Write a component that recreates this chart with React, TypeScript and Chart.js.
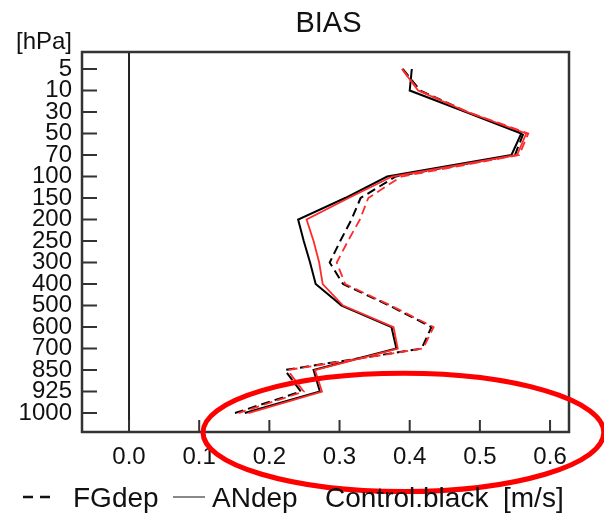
import React, { useEffect, useRef } from "react";
import { Chart, registerables } from "chart.js";

Chart.register(...registerables);

// pressure levels (category axis, top to bottom)
const levels = ["5", "10", "30", "50", "70", "100", "150", "200", "250", "300", "400", "500", "600", "700", "850", "925", "1000"];

// BIAS values [m/s]
const fgControl = [0.390, 0.415, 0.482, 0.562, 0.550, 0.380, 0.330, 0.317, 0.301, 0.286, 0.305, 0.371, 0.431, 0.417, 0.222, 0.245, 0.151];
const fgExperiment = [0.389, 0.413, 0.483, 0.569, 0.556, 0.388, 0.341, 0.329, 0.312, 0.296, 0.308, 0.373, 0.434, 0.419, 0.226, 0.249, 0.156];
const anControl = [0.403, 0.400, 0.480, 0.559, 0.545, 0.368, 0.308, 0.241, 0.249, 0.258, 0.266, 0.303, 0.374, 0.381, 0.263, 0.272, 0.165];
const anExperiment = [0.389, 0.412, 0.482, 0.566, 0.553, 0.375, 0.313, 0.253, 0.263, 0.271, 0.276, 0.305, 0.377, 0.383, 0.265, 0.275, 0.170];

const xTickValues = [0, 0.1, 0.2, 0.3, 0.4, 0.5, 0.6];
const xMin = -0.067;
const xMax = 0.627;
const yMin = -0.79;
const yMax = 16.88;

// red highlight ellipse, in data units (x value, level index)
const highlightCenterX = 0.391;
const highlightCenterY = 16.9;
const highlightRadiusX = 0.2856;
const highlightRadiusY = 2.75;

const FONT = '"Liberation Sans", Arial, Helvetica, sans-serif';

const toPoints = (arr: number[]) => arr.map((v, i) => ({ x: v, y: i }));

const decor = {
  id: "decor",
  beforeDatasetsDraw(chart: any) {
    const { ctx, chartArea: a, scales } = chart;
    const x0 = scales.x.getPixelForValue(0);
    ctx.save();
    ctx.strokeStyle = "#222";
    ctx.lineWidth = 2;
    ctx.beginPath();
    ctx.moveTo(x0, a.top);
    ctx.lineTo(x0, a.bottom);
    ctx.stroke();
    ctx.restore();
  },
  afterDraw(chart: any) {
    const { ctx, chartArea: a, scales } = chart;
    const xs = scales.x;
    const ys = scales.y;
    ctx.save();
    // inward tick marks
    ctx.strokeStyle = "#333";
    ctx.lineWidth = 2;
    ctx.beginPath();
    ys.ticks.forEach((t: any) => {
      const py = ys.getPixelForValue(t.value);
      ctx.moveTo(a.left, py);
      ctx.lineTo(a.left + 15, py);
    });
    xs.ticks.forEach((t: any) => {
      const px = xs.getPixelForValue(t.value);
      ctx.moveTo(px, a.bottom);
      ctx.lineTo(px, a.bottom - 12);
    });
    ctx.stroke();
    // frame
    ctx.strokeStyle = "#333";
    ctx.lineWidth = 2.5;
    ctx.strokeRect(a.left, a.top, a.right - a.left, a.bottom - a.top);

    // title
    ctx.fillStyle = "#111";
    ctx.font = `29px ${FONT}`;
    ctx.textAlign = "center";
    ctx.textBaseline = "middle";
    ctx.fillText("BIAS", (a.left + a.right) / 2 + 3, 24);

    // unit of vertical axis
    ctx.font = `24px ${FONT}`;
    ctx.textAlign = "right";
    ctx.textBaseline = "alphabetic";
    ctx.fillText("[hPa]", 72, 49);

    // highlight ellipse
    const cx = xs.getPixelForValue(highlightCenterX);
    const cy = ys.getPixelForValue(highlightCenterY);
    const rx = Math.abs(xs.getPixelForValue(highlightCenterX + highlightRadiusX) - cx);
    const ry = Math.abs(ys.getPixelForValue(highlightCenterY + highlightRadiusY) - cy);
    ctx.strokeStyle = "#ff0000";
    ctx.lineWidth = 5;
    ctx.beginPath();
    ctx.ellipse(cx, cy, rx, ry, 0, 0, Math.PI * 2);
    ctx.stroke();

    // legend line
    const ly = 497;
    ctx.strokeStyle = "#111";
    ctx.lineWidth = 2.5;
    ctx.beginPath();
    ctx.moveTo(23, ly);
    ctx.lineTo(33, ly);
    ctx.moveTo(40, ly);
    ctx.lineTo(50, ly);
    ctx.stroke();
    ctx.strokeStyle = "#888";
    ctx.lineWidth = 2;
    ctx.beginPath();
    ctx.moveTo(173, ly);
    ctx.lineTo(205, ly);
    ctx.stroke();
    ctx.fillStyle = "#111";
    ctx.font = `28px ${FONT}`;
    ctx.textAlign = "left";
    ctx.textBaseline = "alphabetic";
    ctx.fillText("FGdep", 73, ly + 10);
    ctx.fillText("ANdep", 212, ly + 10);
    ctx.fillText("Control.black", 325, ly + 10);
    ctx.fillText("[m/s]", 503, ly + 10);
    ctx.restore();
  },
};

export default function App() {
  const ref = useRef<HTMLCanvasElement>(null);
  useEffect(() => {
    const chart = new Chart(ref.current as HTMLCanvasElement, {
      type: "line",
      data: {
        datasets: [
          { label: "FGdep experiment", data: toPoints(fgExperiment), borderColor: "#ff2a2a", borderDash: [9, 5], borderWidth: 1.8 },
          { label: "ANdep experiment", data: toPoints(anExperiment), borderColor: "#ff2a2a", borderWidth: 1.8 },
          { label: "FGdep control", data: toPoints(fgControl), borderColor: "#000", borderDash: [9, 5], borderWidth: 2 },
          { label: "ANdep control", data: toPoints(anControl), borderColor: "#000", borderWidth: 2 },
        ],
      },
      options: {
        responsive: false,
        animation: false,
        devicePixelRatio: 1,
        layout: { padding: { top: 52, right: 35, bottom: 0, left: 0 } },
        elements: { point: { radius: 0 }, line: { tension: 0, fill: false } },
        plugins: { legend: { display: false }, tooltip: { enabled: false }, title: { display: false } },
        scales: {
          x: {
            type: "linear",
            position: "bottom",
            min: xMin,
            max: xMax,
            grid: { display: false, drawTicks: false },
            border: { display: false },
            afterBuildTicks: (s: any) => {
              s.ticks = xTickValues.map((v) => ({ value: v }));
            },
            afterFit: (s: any) => {
              s.height = 83;
            },
            ticks: {
              autoSkip: false,
              maxRotation: 0,
              padding: 11,
              color: "#111",
              font: { family: FONT, size: 24 },
              callback: (v: any) => Number(v).toFixed(1),
            },
          },
          y: {
            type: "linear",
            reverse: true,
            min: yMin,
            max: yMax,
            grid: { display: false, drawTicks: false },
            border: { display: false },
            afterBuildTicks: (s: any) => {
              s.ticks = levels.map((_, i) => ({ value: i }));
            },
            afterFit: (s: any) => {
              s.width = 82;
            },
            ticks: {
              autoSkip: false,
              padding: 10,
              color: "#111",
              font: { family: FONT, size: 24 },
              callback: (v: any) => levels[Math.round(Number(v))],
            },
          },
        },
      },
      plugins: [decor],
    });
    return () => chart.destroy();
  }, []);
  return (
    <div style={{ position: "fixed", left: 0, top: 0, width: 604, height: 515, background: "#fff" }}>
      <canvas ref={ref} width={604} height={515} style={{ display: "block", width: 604, height: 515 }} />
    </div>
  );
}
